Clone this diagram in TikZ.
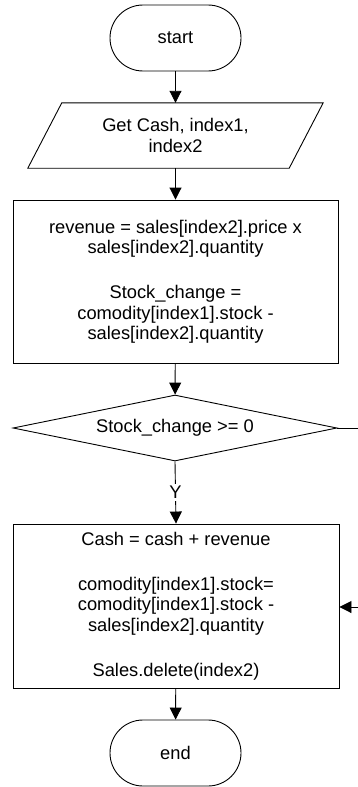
\documentclass[tikz,border=0pt]{standalone}
\usepackage{fontspec}
\setmainfont{Liberation Sans}
\usetikzlibrary{shapes.geometric,arrows.meta}

\begin{document}
\begin{tikzpicture}[x=1pt,y=-1pt,
  every node/.style={font=\fontsize{18.3}{20.3}\selectfont, align=center, inner sep=0pt},
  term/.style={draw, line width=0.9pt, rounded corners=33pt, minimum width=131pt, minimum height=66pt},
  procbox/.style={draw, line width=0.9pt, minimum width=325pt, minimum height=163pt},
  decide/.style={draw, line width=0.9pt, diamond, aspect=4.9, minimum width=324pt, minimum height=66pt},
  flow/.style={line width=0.9pt, -{Triangle[length=12pt,width=12pt]}},
  plain/.style={line width=0.9pt}
]
\useasboundingbox (0,0) rectangle (357,787);

% terminators, input, process steps and the test
\node[term] (start) at (175.5,38) {start};

\node[minimum width=261pt, minimum height=65pt, font=\fontsize{18.3}{21.5}\selectfont]
  (inp) at (175.5,135.5) {Get Cash, index1,\\index2};
\draw[line width=0.9pt]
  ([xshift=-17pt]inp.south west) -- ([xshift=17pt]inp.north west) --
  ([xshift=17pt]inp.north east) -- ([xshift=-17pt]inp.south east) -- cycle;

\node[procbox] (calc) at (175.5,281.5)
  {revenue = sales[index2].price x\\sales[index2].quantity\\[25pt]
   Stock\_change =\\comodity[index1].stock -\\sales[index2].quantity};

\node[decide] (test) at (175,428) {Stock\_change >= 0};

\node[procbox, minimum width=326pt, minimum height=164pt] (upd) at (176,606)
  {Cash = cash + revenue\\[25pt]
   comodity[index1].stock=\\comodity[index1].stock -\\sales[index2].quantity\\[25pt]
   Sales.delete(index2)};

\node[term] (end) at (175.5,753) {end};

% free ends of the loop that runs along the right edge
\coordinate (outR) at (362,428);
\coordinate (inR) at (362,607);

% connectors
\draw[flow] (start) -- (inp.north);
\draw[flow] (inp.south) -- (calc);
\draw[flow] (calc) -- (test);
\draw[flow] (test.south) -- node[midway, fill=white, inner sep=2pt] {Y} (upd.north);
\draw[flow] (upd) -- (end);
\draw[plain] (test.east) -- (outR);
\draw[flow] (inR) -- (upd.east |- inR);
\end{tikzpicture}
\end{document}
